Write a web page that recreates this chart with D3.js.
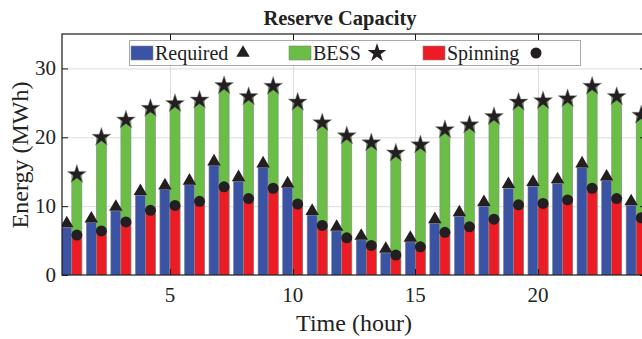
<!DOCTYPE html>
<html>
<head>
<meta charset="utf-8">
<script src="https://cdn.jsdelivr.net/npm/d3@7"></script>
<style>
  body { margin: 0; background: #fff; }
  svg { display: block; font-family: "Liberation Serif", "DejaVu Serif", serif; }
</style>
</head>
<body>
<svg id="chart" width="642" height="339"></svg>
<script>
const hours = d3.range(1, 25);
const required = [6.9, 7.6, 9.3, 11.6, 12.4, 13.1, 15.9, 13.6, 15.6, 12.7, 8.7, 6.4, 5.1, 3.2, 4.8, 7.5, 8.5, 10.0, 12.6, 12.9, 13.3, 15.6, 13.7, 10.1];
const bess = [14.6, 20.0, 22.5, 24.2, 24.9, 25.4, 27.5, 25.9, 27.4, 25.1, 22.1, 20.2, 19.2, 17.7, 18.9, 21.1, 21.8, 23.0, 25.1, 25.3, 25.6, 27.4, 25.9, 23.2];
const spinning = [5.8, 6.4, 7.7, 9.4, 10.1, 10.7, 12.8, 11.1, 12.6, 10.3, 7.2, 5.4, 4.3, 2.9, 4.1, 6.2, 7.0, 8.1, 10.2, 10.4, 10.9, 12.6, 11.1, 8.3];
const xTicks = [5, 10, 15, 20];
const yTicks = [0, 10, 20, 30];

const colors = { required: '#3a53a4', bess: '#6abd45', spinning: '#ed1c24' };
const markColor = '#231f20';

const svg = d3.select('#chart');
const pLeft = 62, pRight = 646, pTop = 34, pBottom = 275;

const x = d3.scaleLinear().domain([0.6, 24.4]).range([pLeft, pRight]);
const y = d3.scaleLinear().domain([0, 35]).range([pBottom, pTop]);
const bw = x(1.41) - x(1);

svg.append('clipPath').attr('id', 'plot')
    .append('rect').attr('x', pLeft).attr('y', pTop).attr('width', pRight - pLeft).attr('height', pBottom - pTop);

// grid
const grid = svg.append('g').attr('stroke', '#dcdcdc').attr('stroke-width', 1);
grid.selectAll('.gy').data(yTicks.filter(d => d > 0)).enter().append('line')
    .attr('x1', pLeft).attr('x2', pRight).attr('y1', d => y(d) + 0.5).attr('y2', d => y(d) + 0.5);
grid.selectAll('.gx').data(xTicks).enter().append('line')
    .attr('y1', pTop).attr('y2', pBottom).attr('x1', d => Math.round(x(d)) + 0.5).attr('x2', d => Math.round(x(d)) + 0.5);

const plot = svg.append('g').attr('clip-path', 'url(#plot)');

const symTri = d3.symbol().type(d3.symbolTriangle).size(78);
const symStar = d3.symbol().type(d3.symbolStar).size(110);
const symCircle = d3.symbol().type(d3.symbolCircle).size(95);

// bars
plot.selectAll('.req').data(hours).enter().append('rect')
    .attr('x', d => x(d) - bw).attr('width', bw)
    .attr('y', (d, i) => y(required[i])).attr('height', (d, i) => pBottom - y(required[i]))
    .attr('fill', colors.required).attr('stroke', '#8a8a8a').attr('stroke-width', 0.6);
plot.selectAll('.bess').data(hours).enter().append('rect')
    .attr('x', d => x(d)).attr('width', bw)
    .attr('y', (d, i) => y(bess[i])).attr('height', (d, i) => pBottom - y(bess[i]))
    .attr('fill', colors.bess).attr('stroke', '#8a8a8a').attr('stroke-width', 0.6);
plot.selectAll('.spin').data(hours).enter().append('rect')
    .attr('x', d => x(d)).attr('width', bw)
    .attr('y', (d, i) => y(spinning[i])).attr('height', (d, i) => pBottom - y(spinning[i]))
    .attr('fill', colors.spinning).attr('stroke', '#8a8a8a').attr('stroke-width', 0.6);

// markers
plot.selectAll('.mtri').data(hours).enter().append('path')
    .attr('d', symTri)
    .attr('transform', (d, i) => `translate(${x(d) - bw / 2},${y(required[i]) - 4})`)
    .attr('fill', markColor);
plot.selectAll('.mstar').data(hours).enter().append('path')
    .attr('d', symStar)
    .attr('transform', (d, i) => `translate(${x(d) + bw / 2},${y(bess[i])})`)
    .attr('fill', markColor).attr('stroke', '#888').attr('stroke-width', 0.5);
plot.selectAll('.mcirc').data(hours).enter().append('path')
    .attr('d', symCircle)
    .attr('transform', (d, i) => `translate(${x(d) + bw / 2},${y(spinning[i])})`)
    .attr('fill', markColor);

// axes frame
const frame = svg.append('g').attr('stroke', '#1a1a1a').attr('stroke-width', 1.2).attr('fill', 'none');
frame.append('rect').attr('x', pLeft).attr('y', pTop).attr('width', pRight - pLeft).attr('height', pBottom - pTop);

// ticks
const tk = svg.append('g').attr('stroke', '#1a1a1a').attr('stroke-width', 1);
xTicks.forEach(t => {
    const xx = Math.round(x(t)) + 0.5;
    tk.append('line').attr('x1', xx).attr('x2', xx).attr('y1', pBottom).attr('y2', pBottom - 6);
    tk.append('line').attr('x1', xx).attr('x2', xx).attr('y1', pTop).attr('y2', pTop + 6);
});
yTicks.forEach(t => {
    const yy = y(t) + 0.5;
    tk.append('line').attr('x1', pLeft).attr('x2', pLeft + 6).attr('y1', yy).attr('y2', yy);
    tk.append('line').attr('x1', pRight).attr('x2', pRight - 6).attr('y1', yy).attr('y2', yy);
});

const txt = svg.append('g').attr('fill', '#222');
txt.selectAll('.xl').data(xTicks).enter().append('text')
    .attr('x', d => x(d)).attr('y', pBottom + 27)
    .attr('text-anchor', 'middle').attr('font-size', 21).text(d => d);
txt.selectAll('.yl').data(yTicks).enter().append('text')
    .attr('x', pLeft - 6).attr('y', d => y(d) + 7)
    .attr('text-anchor', 'end').attr('font-size', 21).text(d => d);

txt.append('text').attr('x', 354).attr('y', 331).attr('text-anchor', 'middle')
    .attr('font-size', 24).text('Time (hour)');
txt.append('text').attr('transform', 'translate(28,155) rotate(-90)').attr('text-anchor', 'middle')
    .attr('font-size', 24).text('Energy (MWh)');
txt.append('text').attr('x', 340).attr('y', 25).attr('text-anchor', 'middle')
    .attr('font-size', 20.5).attr('font-weight', 'bold').text('Reserve Capacity');

// legend
const lg = svg.append('g');
lg.append('rect').attr('x', 129.5).attr('y', 40.5).attr('width', 451).attr('height', 25)
    .attr('fill', '#fff').attr('stroke', '#aaa').attr('stroke-width', 1);
const legendItems = [
    { name: 'Required', color: colors.required, sym: symTri, sx: 131, mx: 243 },
    { name: 'BESS', color: colors.bess, sym: symStar, sx: 289, mx: 377 },
    { name: 'Spinning', color: colors.spinning, sym: symCircle, sx: 423, mx: 536 },
];
legendItems.forEach(it => {
    lg.append('rect').attr('x', it.sx).attr('y', 46).attr('width', 22).attr('height', 14)
        .attr('fill', it.color).attr('stroke', '#888').attr('stroke-width', 0.6);
    lg.append('text').attr('x', it.sx + 24).attr('y', 60).attr('font-size', 20).attr('fill', '#222').text(it.name);
    lg.append('path').attr('d', it.sym).attr('transform', `translate(${it.mx},53)`).attr('fill', markColor);
});
</script>
</body>
</html>
